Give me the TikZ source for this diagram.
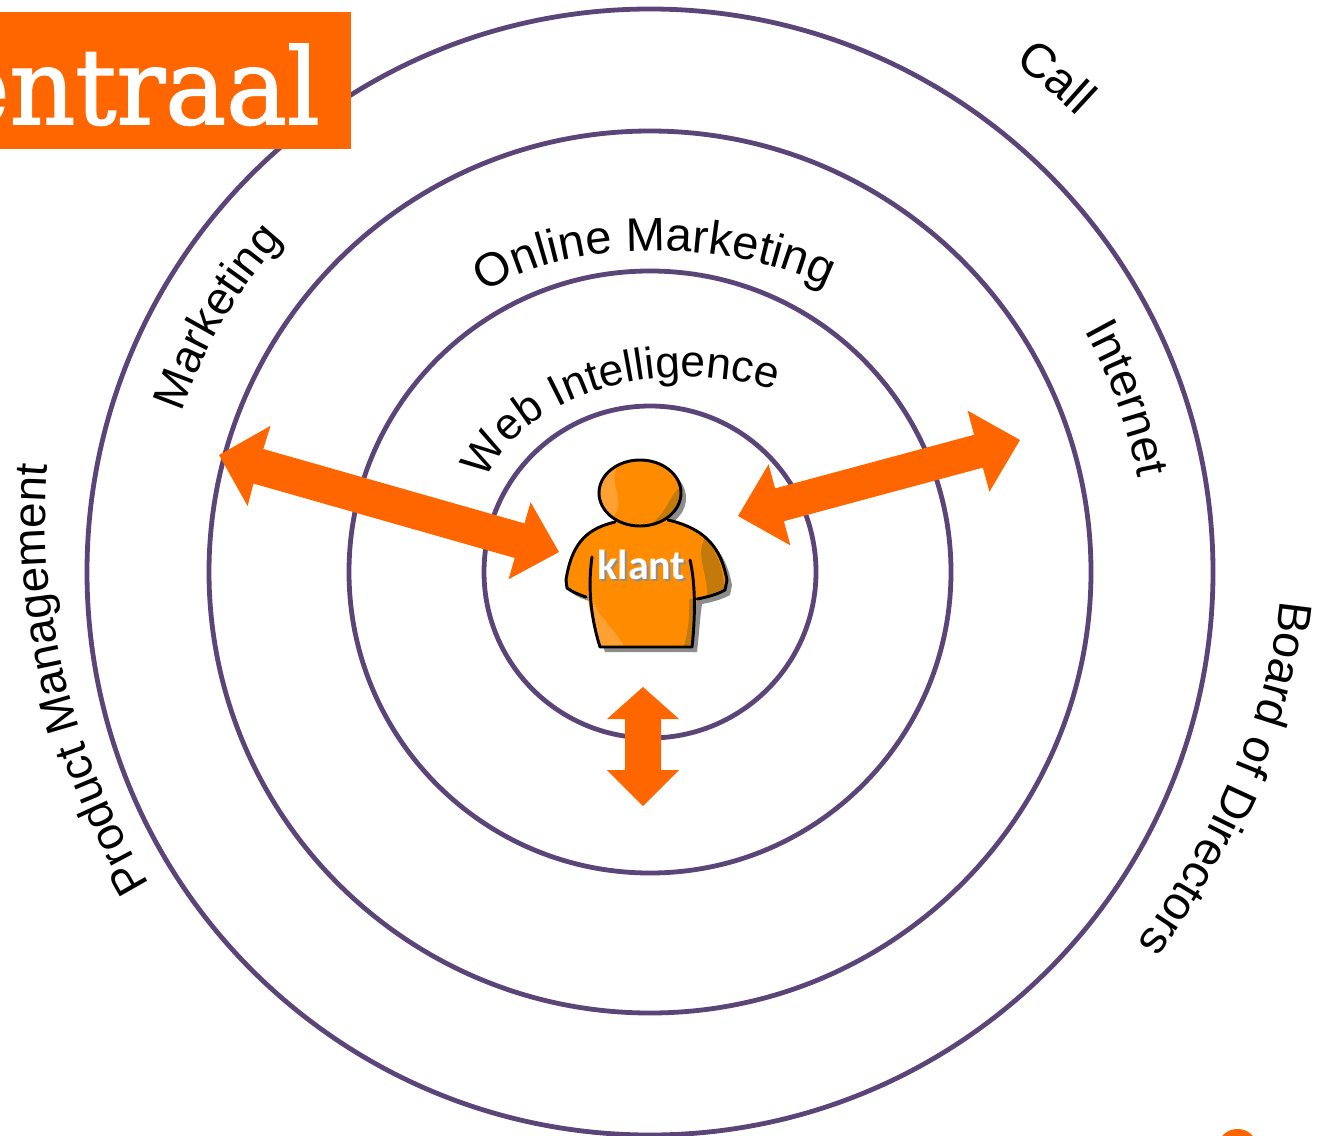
\documentclass[tikz,border=0pt]{standalone}
\usepackage{fontspec}
\usetikzlibrary{decorations.text,shapes.geometric}
\newfontfamily\dfont{Liberation Sans}
\newfontfamily\slabfont[FakeBold=1.6]{DejaVu Serif}
\newfontfamily\shirtfont{Carlito}
\definecolor{ringc}{HTML}{5B4478}
\definecolor{orangeb}{HTML}{FF6600}
\definecolor{shirt}{HTML}{FF8C00}
\definecolor{shirtl}{HTML}{FFA033}
\definecolor{shirtd}{HTML}{C47A0A}
\tikzset{
  ring/.style={circle,draw=ringc,line width=3.6pt,minimum size=#1,inner sep=0pt},
  bigarrow/.style={fill=orangeb,draw=none},
  arctext/.style n args={2}{decorate,decoration={text along path,text align=center,text={|\dfont\fontsize{#1}{40}\selectfont|#2}}},
  warptext/.style n args={2}{decorate,decoration={text along path,text align=left,text={|\dfont\fontsize{#1}{40}\selectfont|#2}}},
  outline/.style={draw=black,line width=2.2pt,line join=round,line cap=round},
}
\begin{document}
\begin{tikzpicture}[x=0.75pt,y=-0.75pt]
\useasboundingbox (0,0) rectangle (1330,1135);
\clip (0,0) rectangle (1330,1135);
% rings
\node[ring=844.5pt] (ringD) at (650,572) {};
\node[ring=661.5pt] (ringC) at (650,572) {};
\node[ring=451.5pt] (ringB) at (650,572) {};
\node[ring=249pt]   (ringA) at (650,572) {};
% title box
\fill[orangeb] (0,12) rectangle (351,149);
\node[anchor=base east,inner sep=0pt,text=white,xscale=0.97] (title) at (320,124)
  {\slabfont\fontsize{79}{80}\selectfont entraal};
% curved labels
\begin{scope}[shift={(650,572)},x=0.75pt,y=0.75pt]
  \path[arctext={34.5}{Marketing}] (165.5:495) arc[start angle=165.5,end angle=133.5,radius=495];
  \path[arctext={36}{Call}] (60.6:625) arc[start angle=60.6,end angle=40.6,radius=625];
  \path[arctext={35}{Internet}] (35:497) arc[start angle=35,end angle=5,radius=497];
\end{scope}
\path[warptext={35.3}{Online Marketing}] (485,294) .. controls (550,243) and (720,233) .. (830,288) -- ++(30,15);
\path[warptext={33.3}{Web Intelligence}] (486,480) .. controls (522,395) and (660,352) .. (780,392) -- ++(30,10);
\path[warptext={34.4}{Product Management}] (150,884) .. controls (82,770) and (33,620) .. (48,458) -- ++(3,-30);
\path[warptext={35}{Board of Directors}] (1280,600) .. controls (1270,715) and (1208,845) .. (1136,946) -- ++(-20,28);
% arrows
\fill[bigarrow] (219,455) -- (270.6,425.8) -- (263.3,449) -- (524.5,523.4) -- (530.6,502.2) -- (559,552)
  -- (508.6,579.2) -- (514.7,558) -- (253.5,483.6) -- (247.6,506) -- cycle;
\fill[bigarrow] (738,516) -- (768.6,464.2) -- (775.1,488.4) -- (974.1,434.8) -- (967.6,410.6) -- (1020,440)
  -- (989.4,491.8) -- (982.9,467.6) -- (783.9,521.2) -- (790.4,545.4) -- cycle;
\fill[bigarrow] (643,687) -- (679,719) -- (661,719) -- (661,770) -- (679,770) -- (643,806)
  -- (607,770) -- (625,770) -- (625,719) -- (607,719) -- cycle;
% person shadow
\begin{scope}[shift={(5,5)}]
  \fill[black,opacity=0.45] (640,493) ellipse[x radius=41,y radius=33];
  \fill[black,opacity=0.45] (615,522) .. controls (590,528) and (572,540) .. (566,580) -- (567,588)
    .. controls (572,592) and (580,595) .. (588,597) .. controls (590,615) and (596,635) .. (600,647)
    -- (692,647) .. controls (694,630) and (695,612) .. (697,599)
    .. controls (708,597) and (718,594) .. (725,590) -- (727,580)
    .. controls (722,555) and (712,530) .. (668,520) -- cycle;
\end{scope}
% body
\path[fill=shirt] (615,522) .. controls (590,528) and (572,540) .. (566,580) -- (567,588)
    .. controls (572,592) and (580,595) .. (588,597) .. controls (590,615) and (596,635) .. (600,647)
    -- (692,647) .. controls (694,630) and (695,612) .. (697,599)
    .. controls (708,597) and (718,594) .. (725,590) -- (727,580)
    .. controls (722,555) and (712,530) .. (668,520) -- cycle;
% body shading
\fill[shirtl] (590,590) .. controls (594,615) and (612,625) .. (624,646) -- (601,646)
   .. controls (596,632) and (591,612) .. (589,597) -- cycle;
\fill[shirtd] (705,538) .. controls (715,548) and (722,565) .. (725,588)
   .. controls (720,591) and (712,594) .. (707,595) .. controls (708,575) and (695,555) .. (705,538) -- cycle;
\fill[shirtd] (689,600) .. controls (692,598) and (694,598) .. (695,600) .. controls (695,615) and (693,632) .. (691,645)
   -- (684,646) .. controls (688,632) and (690,615) .. (689,600) -- cycle;
\draw[outline] (615,522) .. controls (590,528) and (572,540) .. (566,580) -- (567,588)
    .. controls (572,592) and (580,595) .. (586,597);
\draw[outline] (592,557) .. controls (588,585) and (590,615) .. (600,647) -- (692,647)
    .. controls (694,630) and (697,590) .. (690,560);
\draw[outline] (697,599) .. controls (708,597) and (718,594) .. (725,590) -- (727,580)
    .. controls (722,555) and (712,530) .. (668,520);
% head
\fill[shirt] (640,493) ellipse[x radius=41,y radius=33];
\begin{scope}
  \clip (640,493) ellipse[x radius=41,y radius=33];
  \fill[shirtl] (600,460) rectangle (632,530);
  \fill[shirt] (632,458) .. controls (612,462) and (613,478) .. (617,492)
     .. controls (620,505) and (618,513) .. (612,518) -- (690,540) -- (690,450) -- cycle;
  \fill[shirtd] (680,488) .. controls (672,490) and (668,512) .. (650,525) -- (690,525) -- cycle;
\end{scope}
\node[draw=black,line width=2.2pt,ellipse,minimum width=61.5pt,minimum height=49.5pt,inner sep=0pt] (head) at (640,493) {};
% klant
\node[text=black!45,inner sep=0pt,anchor=base] (klantshadow) at (643.5,581.5) {\shirtfont\bfseries\fontsize{31.5}{34}\selectfont klant};
\node[text=white,inner sep=0pt,anchor=base] (klant) at (641.5,579) {\shirtfont\bfseries\fontsize{31.5}{34}\selectfont klant};
% corner logo fragment
\fill[orangeb] (1237.5,1144) ellipse[x radius=18,y radius=15];
\end{tikzpicture}
\end{document}
